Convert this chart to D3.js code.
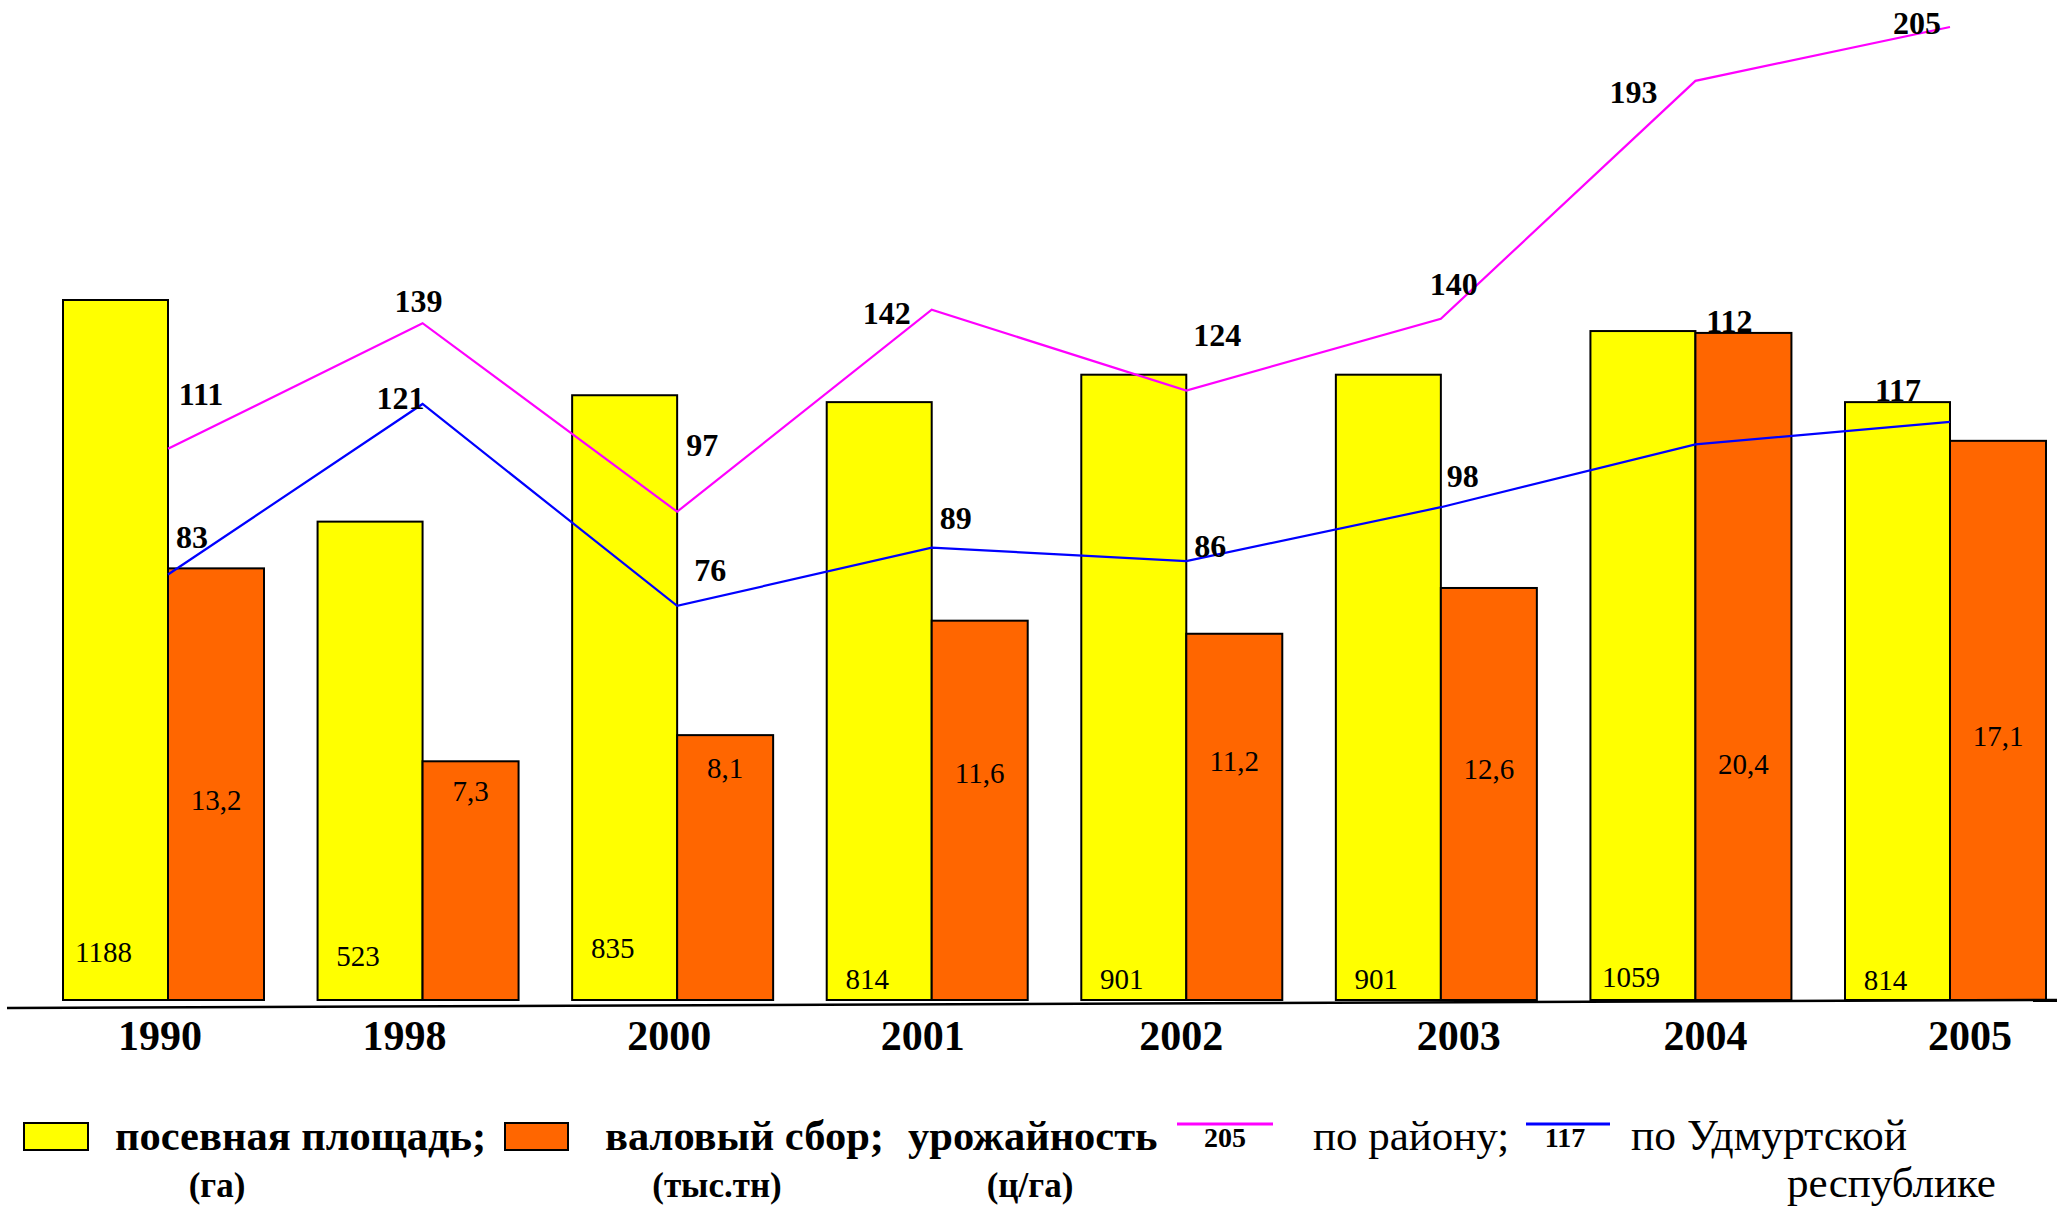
<!DOCTYPE html>
<html lang="ru">
<head>
<meta charset="utf-8">
<script src="https://cdn.jsdelivr.net/npm/d3@7"></script>
<style>
  html, body { margin: 0; padding: 0; background: #fff; }
  svg { display: block; }
  text { font-family: "Liberation Serif", "Times New Roman", serif; fill: #000; }
</style>
</head>
<body>
<svg id="chart" width="2057" height="1209"></svg>
<script>
// Years shown on the horizontal axis
const years = ["1990", "1998", "2000", "2001", "2002", "2003", "2004", "2005"];
// Sown area, ha
const sownArea = [1188, 523, 835, 814, 901, 901, 1059, 814];
// Gross harvest, thousand tonnes
const grossHarvest = [13.2, 7.3, 8.1, 11.6, 11.2, 12.6, 20.4, 17.1];
// Yield, c/ha — district and Udmurt Republic
const yieldDistrict = [111, 139, 97, 142, 124, 140, 193, 205];
const yieldRepublic = [83, 121, 76, 89, 86, 98, 112, 117];

// Label placement (offsets from the point, baselines inside bars, year shifts)
const districtLabelOffset = [[33, -44], [-4, -11], [25, -56], [-45, 14], [31, -45], [13, -24], [-62, 22], [-33, 7]];
const republicLabelOffset = [[24, -27], [-22, 5], [33, -25], [24, -19], [24, -4], [22, -20], [34, -112], [-52, -21]];
const areaLabelBaseline = [962, 966, 958, 989, 989, 989, 987, 990];
const harvestLabelBaseline = [810, 801, 778, 783, 771, 779, 774, 746];
const yearLabelShift = [-8, -18, -8, -9, -5, 18, 10, 20];

const svg = d3.select("#chart");
const base = 1000;
const yellowW = 105, orangeW = 96;

const x = d3.scalePoint().domain(years).range([168, 1950]);
const yArea = d3.scaleLog().domain([89, 1188]).range([base, 300]);
const yHarvest = d3.scaleLinear().domain([0, 30]).range([base, 19]);
const yYield = d3.scaleLinear().domain([0, 205]).range([947, 27]);

const comma = d3.formatLocale({ decimal: ",", thousands: " ", grouping: [3], currency: ["", ""] }).format(".1f");

const idx = d3.range(years.length);

// sown area bars
svg.append("g").selectAll("rect").data(idx).join("rect")
  .attr("x", i => x(years[i]) - yellowW)
  .attr("y", i => yArea(sownArea[i]))
  .attr("width", yellowW)
  .attr("height", i => base - yArea(sownArea[i]))
  .attr("fill", "#FFFF00").attr("stroke", "#000").attr("stroke-width", 2);

// gross harvest bars
svg.append("g").selectAll("rect").data(idx).join("rect")
  .attr("x", i => x(years[i]))
  .attr("y", i => yHarvest(grossHarvest[i]))
  .attr("width", orangeW)
  .attr("height", i => base - yHarvest(grossHarvest[i]))
  .attr("fill", "#FF6600").attr("stroke", "#000").attr("stroke-width", 2);

// horizontal base line
svg.append("line")
  .attr("x1", 7).attr("y1", 1008).attr("x2", 2057).attr("y2", 1000)
  .attr("stroke", "#000").attr("stroke-width", 2.5);

// values inside bars
svg.append("g").selectAll("text").data(idx).join("text")
  .attr("x", i => x(years[i]) - yellowW / 2 - 12)
  .attr("y", i => areaLabelBaseline[i])
  .attr("text-anchor", "middle").attr("font-size", 29)
  .text(i => sownArea[i]);

svg.append("g").selectAll("text").data(idx).join("text")
  .attr("x", i => x(years[i]) + orangeW / 2)
  .attr("y", i => harvestLabelBaseline[i])
  .attr("text-anchor", "middle").attr("font-size", 29)
  .text(i => comma(grossHarvest[i]));

// yield lines
const line = d3.line().x(d => x(d[0])).y(d => yYield(d[1]));
svg.append("path")
  .attr("d", line(years.map((yr, i) => [yr, yieldDistrict[i]])))
  .attr("fill", "none").attr("stroke", "#FF00FF").attr("stroke-width", 2.2);
svg.append("path")
  .attr("d", line(years.map((yr, i) => [yr, yieldRepublic[i]])))
  .attr("fill", "none").attr("stroke", "#0000FF").attr("stroke-width", 2.2);

// yield labels
svg.append("g").selectAll("text").data(idx).join("text")
  .attr("x", i => x(years[i]) + districtLabelOffset[i][0])
  .attr("y", i => yYield(yieldDistrict[i]) + districtLabelOffset[i][1])
  .attr("text-anchor", "middle").attr("font-size", 32).attr("font-weight", "bold")
  .text(i => yieldDistrict[i]);
svg.append("g").selectAll("text").data(idx).join("text")
  .attr("x", i => x(years[i]) + republicLabelOffset[i][0])
  .attr("y", i => yYield(yieldRepublic[i]) + republicLabelOffset[i][1])
  .attr("text-anchor", "middle").attr("font-size", 32).attr("font-weight", "bold")
  .text(i => yieldRepublic[i]);

// year labels
svg.append("g").selectAll("text").data(idx).join("text")
  .attr("x", i => x(years[i]) + yearLabelShift[i])
  .attr("y", 1050)
  .attr("text-anchor", "middle").attr("font-size", 42).attr("font-weight", "bold")
  .text(i => years[i]);

// legend
const lg = svg.append("g");
lg.append("rect").attr("x", 24).attr("y", 1123).attr("width", 64).attr("height", 27)
  .attr("fill", "#FFFF00").attr("stroke", "#000").attr("stroke-width", 2);
lg.append("text").attr("x", 115).attr("y", 1150).attr("font-size", 42.5).attr("font-weight", "bold")
  .text("посевная площадь;");
lg.append("text").attr("x", 217).attr("y", 1197).attr("text-anchor", "middle").attr("font-size", 35).attr("font-weight", "bold")
  .text("(га)");
lg.append("rect").attr("x", 505).attr("y", 1123).attr("width", 63).attr("height", 27)
  .attr("fill", "#FF6600").attr("stroke", "#000").attr("stroke-width", 2);
lg.append("text").attr("x", 605).attr("y", 1150).attr("font-size", 42.5).attr("font-weight", "bold")
  .text("валовый сбор;");
lg.append("text").attr("x", 717).attr("y", 1197).attr("text-anchor", "middle").attr("font-size", 35).attr("font-weight", "bold")
  .text("(тыс.тн)");
lg.append("text").attr("x", 908).attr("y", 1150).attr("font-size", 42.5).attr("font-weight", "bold")
  .text("урожайность");
lg.append("text").attr("x", 1030).attr("y", 1197).attr("text-anchor", "middle").attr("font-size", 35).attr("font-weight", "bold")
  .text("(ц/га)");
lg.append("line").attr("x1", 1177).attr("x2", 1273).attr("y1", 1124).attr("y2", 1124)
  .attr("stroke", "#FF00FF").attr("stroke-width", 3);
lg.append("text").attr("x", 1225).attr("y", 1147).attr("text-anchor", "middle").attr("font-size", 28).attr("font-weight", "bold")
  .text(yieldDistrict[yieldDistrict.length - 1]);
lg.append("text").attr("x", 1313).attr("y", 1150).attr("font-size", 43)
  .text("по району;");
lg.append("line").attr("x1", 1526).attr("x2", 1610).attr("y1", 1124).attr("y2", 1124)
  .attr("stroke", "#0000FF").attr("stroke-width", 3);
lg.append("text").attr("x", 1565).attr("y", 1147).attr("text-anchor", "middle").attr("font-size", 28).attr("font-weight", "bold")
  .text(yieldRepublic[yieldRepublic.length - 1]);
lg.append("text").attr("x", 1631).attr("y", 1150).attr("font-size", 43.5)
  .text("по Удмуртской");
lg.append("text").attr("x", 1787).attr("y", 1197).attr("font-size", 43)
  .text("республике");
</script>
</body>
</html>
